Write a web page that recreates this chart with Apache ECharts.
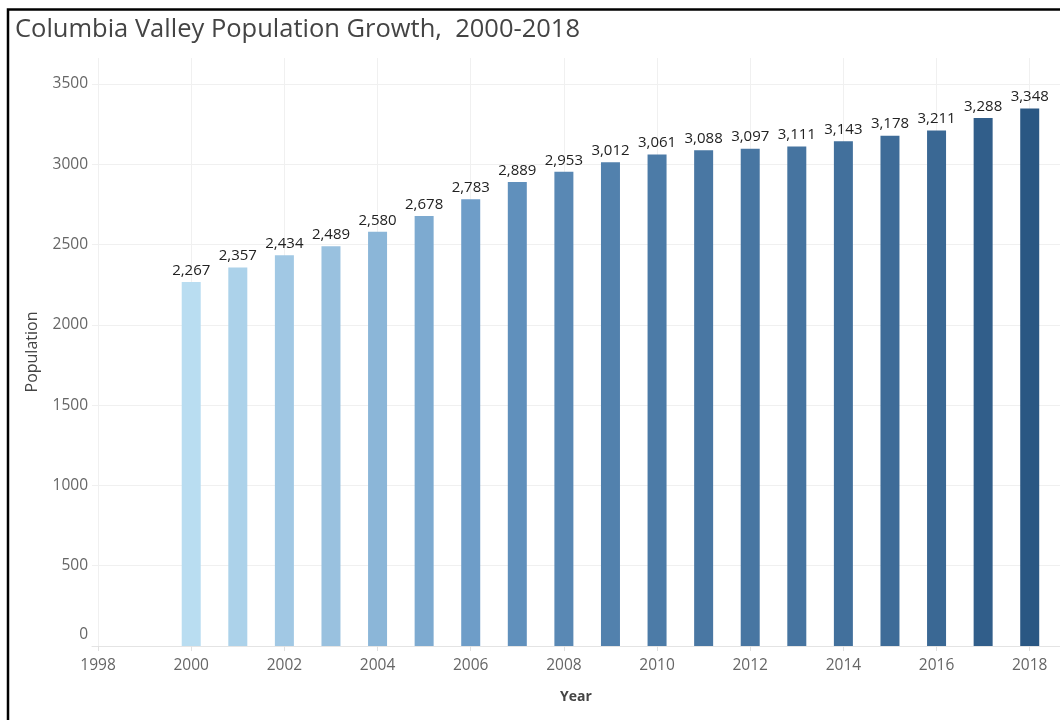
<!DOCTYPE html>
<html><head><meta charset="utf-8">
<script src="https://cdn.jsdelivr.net/npm/echarts@6/dist/echarts.min.js"></script>
<style>html,body{margin:0;padding:0;background:#fff}#c{width:1060px;height:720px}</style>
</head><body><div id="c"></div>
<script>
const years = [2000,2001,2002,2003,2004,2005,2006,2007,2008,2009,2010,2011,2012,2013,2014,2015,2016,2017,2018];
const population = [2267,2357,2434,2489,2580,2678,2783,2889,2953,3012,3061,3088,3097,3111,3143,3178,3211,3288,3348];
const xTicks = [1998,2000,2002,2004,2006,2008,2010,2012,2014,2016,2018];
const yTicks = [0,500,1000,1500,2000,2500,3000,3500];

const chart = echarts.init(document.getElementById('c'), null, {renderer: 'canvas'});
const font = '"Open Sans", "Noto Sans", sans-serif';
chart.setOption({
  animation: false,
  textStyle: {fontFamily: font},
  title: {
    text: 'Columbia Valley Population Growth,  2000-2018',
    left: 10, top: 12,
    textStyle: {fontSize: 25.5, fontWeight: 'normal', color: '#444', fontFamily: font}
  },
  graphic: [{
    type: 'rect', silent: true, z: 100,
    shape: {x: 8, y: 9.5, width: 1200, height: 1000},
    style: {fill: 'none', stroke: '#000', lineWidth: 2.5}
  }],
  grid: {left: 92, right: 0, top: 58, bottom: 74},
  visualMap: {
    show: false, type: 'continuous', seriesIndex: 0, dimension: 1,
    min: Math.min(...population), max: Math.max(...population),
    inRange: {color: ['#b9ddf1', '#6a9ac6', '#2a5783']}
  },
  xAxis: {
    type: 'value', min: 1997.87, max: 2018.65,
    name: 'Year', nameLocation: 'middle', nameGap: 44,
    nameTextStyle: {fontSize: 14, fontWeight: 'bold', color: '#444'},
    axisLine: {show: true, lineStyle: {color: '#e4e4e4'}},
    axisTick: {show: true, length: 5, customValues: xTicks, lineStyle: {color: '#e0e0e0'}},
    axisLabel: {customValues: xTicks, color: '#666', fontSize: 15.5, margin: 12, formatter: v => String(v)},
    splitLine: {show: true, lineStyle: {color: '#f0f0f0'}}
  },
  yAxis: {
    type: 'value', min: 0, max: 3662,
    name: 'Population', nameLocation: 'middle', nameRotate: 90, nameGap: 52,
    nameTextStyle: {fontSize: 16, color: '#444'},
    axisLine: {show: false},
    axisTick: {show: false, customValues: yTicks},
    axisLabel: {
      customValues: yTicks, color: '#666', fontSize: 15.5, margin: 4,
      formatter: v => v === 0 ? '{z|0}' : String(v),
      rich: {z: {color: '#666', fontSize: 15.5, padding: [0, 0, 22, 0]}}
    },
    splitLine: {show: true, lineStyle: {color: '#f0f0f0'}}
  },
  series: [{
    type: 'bar',
    barWidth: 19,
    data: years.map((y, i) => [y, population[i]]),
    label: {
      show: true, position: 'top', distance: 4,
      color: '#222', fontSize: 15,
      formatter: p => p.value[1].toLocaleString('en-US')
    }
  }]
});
</script></body></html>
